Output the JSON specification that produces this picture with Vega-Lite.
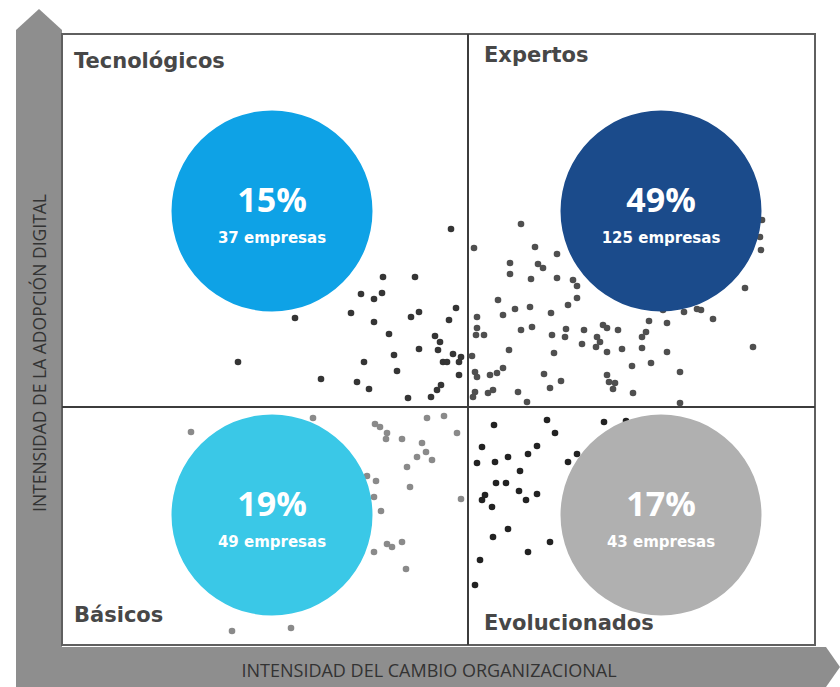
{
  "$schema": "https://vega.github.io/schema/vega-lite/v6.json",
  "width": 840,
  "height": 687,
  "padding": 0,
  "autosize": "none",
  "background": "#ffffff",
  "config": {"view": {"stroke": null}},
  "datasets": {
    "flechas": [
      {"eje": "adopcion", "x": -23, "x2": -23, "y": 636},
      {"eje": "adopcion", "x": -46, "x2": 0, "y": 615},
      {"eje": "adopcion", "x": -46, "x2": 0, "y": -42},
      {"eje": "cambio", "x": -46, "y": -2, "y2": -42},
      {"eje": "cambio", "x": 764, "y": -2, "y2": -42},
      {"eje": "cambio", "x": 778, "y": -22, "y2": -22}
    ],
    "marco": [{"x": 0, "x2": 753, "y": 0, "y2": 611}],
    "divisiones": [
      {"x": 406, "x2": 406, "y": 0, "y2": 611},
      {"x": 0, "x2": 753, "y": 238, "y2": 238}
    ],
    "empresas": [
      {"g": "Tecnológicos", "x": 389, "y": 416},
      {"g": "Tecnológicos", "x": 299, "y": 351},
      {"g": "Tecnológicos", "x": 321, "y": 368},
      {"g": "Tecnológicos", "x": 353, "y": 368},
      {"g": "Tecnológicos", "x": 320, "y": 352},
      {"g": "Tecnológicos", "x": 312, "y": 346},
      {"g": "Tecnológicos", "x": 233, "y": 327},
      {"g": "Tecnológicos", "x": 289, "y": 332},
      {"g": "Tecnológicos", "x": 312, "y": 323},
      {"g": "Tecnológicos", "x": 349, "y": 328},
      {"g": "Tecnológicos", "x": 357, "y": 333},
      {"g": "Tecnológicos", "x": 394, "y": 337},
      {"g": "Tecnológicos", "x": 387, "y": 325},
      {"g": "Tecnológicos", "x": 327, "y": 311},
      {"g": "Tecnológicos", "x": 373, "y": 309},
      {"g": "Tecnológicos", "x": 378, "y": 303},
      {"g": "Tecnológicos", "x": 376, "y": 295},
      {"g": "Tecnológicos", "x": 357, "y": 296},
      {"g": "Tecnológicos", "x": 332, "y": 290},
      {"g": "Tecnológicos", "x": 391, "y": 291},
      {"g": "Tecnológicos", "x": 399, "y": 288},
      {"g": "Tecnológicos", "x": 176, "y": 283},
      {"g": "Tecnológicos", "x": 302, "y": 283},
      {"g": "Tecnológicos", "x": 381, "y": 283},
      {"g": "Tecnológicos", "x": 385, "y": 283},
      {"g": "Tecnológicos", "x": 397, "y": 283},
      {"g": "Tecnológicos", "x": 335, "y": 274},
      {"g": "Tecnológicos", "x": 259, "y": 266},
      {"g": "Tecnológicos", "x": 295, "y": 263},
      {"g": "Tecnológicos", "x": 307, "y": 256},
      {"g": "Tecnológicos", "x": 397, "y": 270},
      {"g": "Tecnológicos", "x": 379, "y": 260},
      {"g": "Tecnológicos", "x": 375, "y": 255},
      {"g": "Tecnológicos", "x": 369, "y": 248},
      {"g": "Tecnológicos", "x": 346, "y": 247},
      {"g": "Expertos", "x": 412, "y": 397},
      {"g": "Expertos", "x": 459, "y": 421},
      {"g": "Expertos", "x": 473, "y": 398},
      {"g": "Expertos", "x": 495, "y": 391},
      {"g": "Expertos", "x": 448, "y": 382},
      {"g": "Expertos", "x": 476, "y": 381},
      {"g": "Expertos", "x": 481, "y": 377},
      {"g": "Expertos", "x": 448, "y": 371},
      {"g": "Expertos", "x": 469, "y": 366},
      {"g": "Expertos", "x": 495, "y": 367},
      {"g": "Expertos", "x": 511, "y": 365},
      {"g": "Expertos", "x": 515, "y": 359},
      {"g": "Expertos", "x": 683, "y": 357},
      {"g": "Expertos", "x": 436, "y": 345},
      {"g": "Expertos", "x": 515, "y": 347},
      {"g": "Expertos", "x": 506, "y": 340},
      {"g": "Expertos", "x": 468, "y": 338},
      {"g": "Expertos", "x": 453, "y": 336},
      {"g": "Expertos", "x": 441, "y": 330},
      {"g": "Expertos", "x": 489, "y": 332},
      {"g": "Expertos", "x": 415, "y": 328},
      {"g": "Expertos", "x": 601, "y": 335},
      {"g": "Expertos", "x": 622, "y": 333},
      {"g": "Expertos", "x": 635, "y": 336},
      {"g": "Expertos", "x": 639, "y": 335},
      {"g": "Expertos", "x": 651, "y": 326},
      {"g": "Expertos", "x": 587, "y": 324},
      {"g": "Expertos", "x": 605, "y": 322},
      {"g": "Expertos", "x": 415, "y": 317},
      {"g": "Expertos", "x": 414, "y": 310},
      {"g": "Expertos", "x": 422, "y": 310},
      {"g": "Expertos", "x": 459, "y": 315},
      {"g": "Expertos", "x": 470, "y": 318},
      {"g": "Expertos", "x": 490, "y": 310},
      {"g": "Expertos", "x": 504, "y": 316},
      {"g": "Expertos", "x": 503, "y": 308},
      {"g": "Expertos", "x": 522, "y": 315},
      {"g": "Expertos", "x": 541, "y": 320},
      {"g": "Expertos", "x": 545, "y": 317},
      {"g": "Expertos", "x": 556, "y": 315},
      {"g": "Expertos", "x": 535, "y": 308},
      {"g": "Expertos", "x": 538, "y": 303},
      {"g": "Expertos", "x": 580, "y": 308},
      {"g": "Expertos", "x": 584, "y": 313},
      {"g": "Expertos", "x": 520, "y": 301},
      {"g": "Expertos", "x": 534, "y": 298},
      {"g": "Expertos", "x": 545, "y": 293},
      {"g": "Expertos", "x": 560, "y": 296},
      {"g": "Expertos", "x": 580, "y": 297},
      {"g": "Expertos", "x": 605, "y": 293},
      {"g": "Expertos", "x": 691, "y": 298},
      {"g": "Expertos", "x": 447, "y": 295},
      {"g": "Expertos", "x": 492, "y": 292},
      {"g": "Expertos", "x": 410, "y": 289},
      {"g": "Expertos", "x": 570, "y": 279},
      {"g": "Expertos", "x": 589, "y": 282},
      {"g": "Expertos", "x": 618, "y": 273},
      {"g": "Expertos", "x": 441, "y": 277},
      {"g": "Expertos", "x": 435, "y": 272},
      {"g": "Expertos", "x": 428, "y": 270},
      {"g": "Expertos", "x": 413, "y": 273},
      {"g": "Expertos", "x": 415, "y": 268},
      {"g": "Expertos", "x": 482, "y": 271},
      {"g": "Expertos", "x": 499, "y": 264},
      {"g": "Expertos", "x": 545, "y": 270},
      {"g": "Expertos", "x": 547, "y": 263},
      {"g": "Expertos", "x": 553, "y": 262},
      {"g": "Expertos", "x": 551, "y": 256},
      {"g": "Expertos", "x": 488, "y": 257},
      {"g": "Expertos", "x": 456, "y": 253},
      {"g": "Expertos", "x": 431, "y": 255},
      {"g": "Expertos", "x": 426, "y": 252},
      {"g": "Expertos", "x": 413, "y": 253},
      {"g": "Expertos", "x": 411, "y": 248},
      {"g": "Expertos", "x": 571, "y": 252},
      {"g": "Expertos", "x": 465, "y": 243},
      {"g": "Expertos", "x": 618, "y": 242},
      {"g": "Expertos", "x": 700, "y": 425},
      {"g": "Expertos", "x": 698, "y": 408},
      {"g": "Expertos", "x": 699, "y": 395},
      {"g": "Básicos", "x": 129, "y": 213},
      {"g": "Básicos", "x": 251, "y": 227},
      {"g": "Básicos", "x": 313, "y": 221},
      {"g": "Básicos", "x": 318, "y": 218},
      {"g": "Básicos", "x": 325, "y": 212},
      {"g": "Básicos", "x": 324, "y": 206},
      {"g": "Básicos", "x": 340, "y": 206},
      {"g": "Básicos", "x": 365, "y": 227},
      {"g": "Básicos", "x": 382, "y": 229},
      {"g": "Básicos", "x": 395, "y": 212},
      {"g": "Básicos", "x": 360, "y": 202},
      {"g": "Básicos", "x": 364, "y": 193},
      {"g": "Básicos", "x": 370, "y": 185},
      {"g": "Básicos", "x": 355, "y": 188},
      {"g": "Básicos", "x": 345, "y": 178},
      {"g": "Básicos", "x": 348, "y": 158},
      {"g": "Básicos", "x": 314, "y": 164},
      {"g": "Básicos", "x": 305, "y": 169},
      {"g": "Básicos", "x": 312, "y": 148},
      {"g": "Básicos", "x": 319, "y": 134},
      {"g": "Básicos", "x": 399, "y": 146},
      {"g": "Básicos", "x": 325, "y": 101},
      {"g": "Básicos", "x": 330, "y": 98},
      {"g": "Básicos", "x": 340, "y": 103},
      {"g": "Básicos", "x": 312, "y": 93},
      {"g": "Básicos", "x": 344, "y": 76},
      {"g": "Básicos", "x": 170, "y": 14},
      {"g": "Básicos", "x": 229, "y": 17},
      {"g": "Evolucionados", "x": 432, "y": 220},
      {"g": "Evolucionados", "x": 485, "y": 225},
      {"g": "Evolucionados", "x": 493, "y": 212},
      {"g": "Evolucionados", "x": 542, "y": 223},
      {"g": "Evolucionados", "x": 564, "y": 224},
      {"g": "Evolucionados", "x": 420, "y": 198},
      {"g": "Evolucionados", "x": 475, "y": 199},
      {"g": "Evolucionados", "x": 466, "y": 191},
      {"g": "Evolucionados", "x": 446, "y": 188},
      {"g": "Evolucionados", "x": 515, "y": 191},
      {"g": "Evolucionados", "x": 506, "y": 183},
      {"g": "Evolucionados", "x": 415, "y": 182},
      {"g": "Evolucionados", "x": 433, "y": 183},
      {"g": "Evolucionados", "x": 458, "y": 174},
      {"g": "Evolucionados", "x": 434, "y": 162},
      {"g": "Evolucionados", "x": 444, "y": 162},
      {"g": "Evolucionados", "x": 457, "y": 154},
      {"g": "Evolucionados", "x": 475, "y": 151},
      {"g": "Evolucionados", "x": 464, "y": 145},
      {"g": "Evolucionados", "x": 423, "y": 150},
      {"g": "Evolucionados", "x": 420, "y": 145},
      {"g": "Evolucionados", "x": 430, "y": 138},
      {"g": "Evolucionados", "x": 446, "y": 116},
      {"g": "Evolucionados", "x": 431, "y": 108},
      {"g": "Evolucionados", "x": 488, "y": 103},
      {"g": "Evolucionados", "x": 466, "y": 93},
      {"g": "Evolucionados", "x": 418, "y": 85},
      {"g": "Evolucionados", "x": 413, "y": 60}
    ],
    "grupos": [
      {"g": "Tecnológicos", "x": 210, "y": 434, "pct": "15%", "n": "37 empresas"},
      {"g": "Expertos", "x": 599, "y": 434, "pct": "49%", "n": "125 empresas"},
      {"g": "Básicos", "x": 210, "y": 130, "pct": "19%", "n": "49 empresas"},
      {"g": "Evolucionados", "x": 599, "y": 130, "pct": "17%", "n": "43 empresas"}
    ],
    "cuadrantes": [
      {"nombre": "Tecnológicos", "x": 12, "y": 577},
      {"nombre": "Expertos", "x": 422, "y": 583},
      {"nombre": "Básicos", "x": 12, "y": 23},
      {"nombre": "Evolucionados", "x": 422, "y": 15}
    ],
    "ejes": [
      {"titulo": "INTENSIDAD DEL CAMBIO ORGANIZACIONAL", "eje": "cambio", "x": 367, "y": -32},
      {"titulo": "INTENSIDAD DE LA ADOPCIÓN DIGITAL", "eje": "adopcion", "x": -16, "y": 292}
    ]
  },
  "encoding": {
    "x": {"field": "x", "type": "quantitative", "axis": null, "scale": {"domain": [-62, 778], "nice": false, "zero": false}},
    "y": {"field": "y", "type": "quantitative", "axis": null, "scale": {"domain": [-42, 645], "nice": false, "zero": false}}
  },
  "layer": [
    {
      "data": {"name": "flechas"},
      "transform": [{"filter": "datum.eje === 'adopcion'"}],
      "mark": {"type": "area", "orient": "horizontal", "color": "#8e8e8e", "opacity": 1},
      "encoding": {"x2": {"field": "x2"}}
    },
    {
      "data": {"name": "flechas"},
      "transform": [{"filter": "datum.eje === 'cambio'"}],
      "mark": {"type": "area", "orient": "vertical", "color": "#8e8e8e", "opacity": 1},
      "encoding": {"y2": {"field": "y2"}}
    },
    {
      "data": {"name": "marco"},
      "mark": {"type": "rect", "fill": "#ffffff", "stroke": "#5f5f5f", "strokeWidth": 2},
      "encoding": {"x2": {"field": "x2"}, "y2": {"field": "y2"}}
    },
    {
      "data": {"name": "divisiones"},
      "mark": {"type": "rule", "color": "#3c3c3c", "strokeWidth": 2},
      "encoding": {"x2": {"field": "x2"}, "y2": {"field": "y2"}}
    },
    {
      "data": {"name": "empresas"},
      "mark": {"type": "point", "shape": "circle", "filled": true, "size": 44, "opacity": 1},
      "encoding": {
        "color": {"field": "g", "type": "nominal", "legend": null,
          "scale": {"domain": ["Tecnológicos", "Expertos", "Básicos", "Evolucionados"], "range": ["#353535", "#4f4f4f", "#8a8a8a", "#222222"]}}
      }
    },
    {
      "data": {"name": "grupos"},
      "mark": {"type": "point", "shape": "circle", "filled": true, "size": 40400, "opacity": 1},
      "encoding": {
        "fill": {"field": "g", "type": "nominal", "legend": null,
          "scale": {"domain": ["Tecnológicos", "Expertos", "Básicos", "Evolucionados"], "range": ["#0ea2e6", "#1b4b8b", "#3ac8e7", "#b0b0b0"]}}
      }
    },
    {
      "data": {"name": "grupos"},
      "mark": {"type": "text", "font": "Open Sans", "fontWeight": "bold", "fontSize": 34, "color": "#ffffff", "align": "center", "baseline": "alphabetic", "dy": 1},
      "encoding": {"text": {"field": "pct"}}
    },
    {
      "data": {"name": "grupos"},
      "mark": {"type": "text", "font": "DejaVu Sans", "fontWeight": "bold", "fontSize": 15, "color": "#ffffff", "align": "center", "baseline": "alphabetic", "dy": 32},
      "encoding": {"text": {"field": "n"}}
    },
    {
      "data": {"name": "cuadrantes"},
      "mark": {"type": "text", "font": "DejaVu Sans", "fontWeight": "bold", "fontSize": 21, "color": "#474747", "align": "left", "baseline": "alphabetic"},
      "encoding": {"text": {"field": "nombre"}}
    },
    {
      "data": {"name": "ejes"},
      "transform": [{"filter": "datum.eje === 'cambio'"}],
      "mark": {"type": "text", "font": "Open Sans", "fontSize": 18, "color": "#333333", "align": "center", "baseline": "alphabetic"},
      "encoding": {"text": {"field": "titulo"}}
    },
    {
      "data": {"name": "ejes"},
      "transform": [{"filter": "datum.eje === 'adopcion'"}],
      "mark": {"type": "text", "font": "Open Sans", "fontSize": 17.5, "color": "#333333", "align": "center", "baseline": "alphabetic", "angle": 270},
      "encoding": {"text": {"field": "titulo"}}
    }
  ],
  "resolve": {"scale": {"color": "independent", "fill": "independent"}}
}
